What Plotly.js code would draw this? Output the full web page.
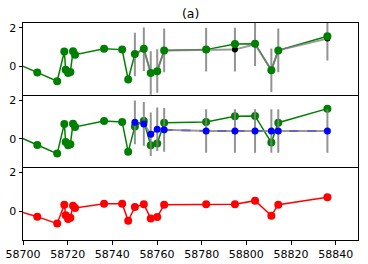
<!DOCTYPE html>
<html><head><meta charset="utf-8">
<script src="https://cdn.plot.ly/plotly-3.0.1.min.js"></script>
<style>html,body{margin:0;padding:0;background:#fff}#c{width:368px;height:264px}</style>
</head><body><div id="c"></div>
<script>
const mjd = [58697, 58706.4, 58715.3, 58718.5, 58719.1, 58720.2, 58721.2, 58722.4, 58723.3, 58736.3, 58744.4, 58747.1, 58750.1, 58754.1, 58757.2, 58760.1, 58763.2, 58782.0, 58794.9, 58803.9, 58811.2, 58814.3, 58836.3];
const greenVals = [0.16, -0.32, -0.77, 0.77, -0.17, -0.34, -0.29, 0.78, 0.61, 0.92, 0.87, -0.68, 0.64, 0.92, -0.34, -0.25, 0.83, 0.87, 1.16, 1.18, -0.2, 0.83, 1.56];
const redVals = [0.02, -0.29, -0.65, 0.33, -0.22, -0.41, -0.34, 0.28, 0.16, 0.38, 0.38, -0.5, 0.21, 0.36, -0.39, -0.31, 0.33, 0.35, 0.35, 0.54, -0.24, 0.33, 0.71];
const obsMjd = [58750.1, 58754.1, 58757.2, 58760.1, 58763.2, 58782.0, 58794.9, 58803.9, 58811.2, 58814.3, 58836.3];
const obsVals = [0.62, 0.89, -0.34, -0.24, 0.83, 0.87, 0.87, 1.15, -0.2, 0.83, 1.44];
const obsErr = [1.13, 1.13, 1.13, 1.13, 1.13, 1.13, 1.13, 1.13, 1.13, 1.13, 1.13];
const blueVals = [0.85, 0.77, 0.23, 0.49, 0.46, 0.4, 0.4, 0.4, 0.4, 0.4, 0.4];
const blueErr = [1.13, 1.13, 1.13, 1.13, 1.13, 1.13, 1.13, 1.13, 1.13, 1.13, 1.13];
const xTicks = [58700, 58720, 58740, 58760, 58780, 58800, 58820, 58840];
const xTickText = ['58700', '58720', '58740', '58760', '58780', '58800', '58820', '58840'];
const yTicks = [-2, 0, 2];
const yTickText = ['\u22122', '0', '2'];

const G = '#008000';
const errStyle = arr => ({type:'data', array:arr, visible:true, color:'rgba(128,128,128,0.85)', thickness:2, width:0});

const traces = [
  // panel 1
  {x:mjd, y:greenVals, xaxis:'x', yaxis:'y', mode:'lines', line:{color:G, width:1.5}},
  {x:obsMjd, y:obsVals, xaxis:'x', yaxis:'y', mode:'lines+markers', line:{color:'rgba(128,128,128,0.8)', width:2},
   marker:{color:'#000', size:6}, error_y:errStyle(obsErr)},
  {x:mjd, y:greenVals, xaxis:'x', yaxis:'y', mode:'markers', marker:{color:G, size:8}},
  // panel 2
  {x:mjd, y:greenVals, xaxis:'x2', yaxis:'y2', mode:'lines+markers', line:{color:G, width:1.5}, marker:{color:G, size:8}},
  {x:obsMjd, y:blueVals, xaxis:'x2', yaxis:'y2', mode:'lines', line:{color:'rgba(128,128,128,0.8)', width:2},
   error_y:errStyle(blueErr)},
  {x:obsMjd, y:blueVals, xaxis:'x2', yaxis:'y2', mode:'lines+markers', line:{color:'rgba(60,60,220,0.55)', width:2, dash:'dash'},
   marker:{color:'#0000ff', size:7}},
  // panel 3
  {x:mjd, y:redVals, xaxis:'x3', yaxis:'y3', mode:'lines+markers', line:{color:'#ff0000', width:1.5}, marker:{color:'#ff0000', size:8}}
];

const font = {family:'DejaVu Sans', size:11, color:'#000'};
const xBase = {range:[58700, 58850], showgrid:false, zeroline:false, showline:true, mirror:true, linecolor:'#000', linewidth:1,
  tickvals:xTicks, ticktext:xTickText, ticks:'', showticklabels:false};
const yBase = {range:[-1.5, 2.25], showgrid:false, zeroline:false, showline:true, mirror:true, linecolor:'#000', linewidth:1,
  tickvals:yTicks, ticktext:yTickText, ticks:'outside', ticklen:3.5, tickwidth:1, tickcolor:'#000', tickfont:font};

const layout = {
  width:368, height:264, showlegend:false,
  margin:{l:23, r:10, t:23, b:24, pad:0},
  paper_bgcolor:'#fff', plot_bgcolor:'#fff', font:font,
  title:{text:'(a)', font:{family:'DejaVu Sans', size:12.5, color:'#000'}, x:0.518, xanchor:'center', y:1-14/264, yref:'container', yanchor:'middle'},
  xaxis: Object.assign({}, xBase, {anchor:'y', domain:[0,1]}),
  xaxis2: Object.assign({}, xBase, {anchor:'y2', domain:[0,1], matches:'x', showline:false}),
  xaxis3: Object.assign({}, xBase, {anchor:'y3', domain:[0,1], matches:'x', ticks:'outside', ticklen:3.5, tickcolor:'#000', showticklabels:true, tickfont:font}),
  yaxis: Object.assign({}, yBase, {anchor:'x', domain:[2/3, 1]}),
  yaxis2: Object.assign({}, yBase, {anchor:'x2', domain:[1/3, 2/3]}),
  yaxis3: Object.assign({}, yBase, {anchor:'x3', domain:[0, 1/3]})
};
Plotly.newPlot('c', traces, layout, {staticPlot:true, displayModeBar:false});
</script></body></html>
